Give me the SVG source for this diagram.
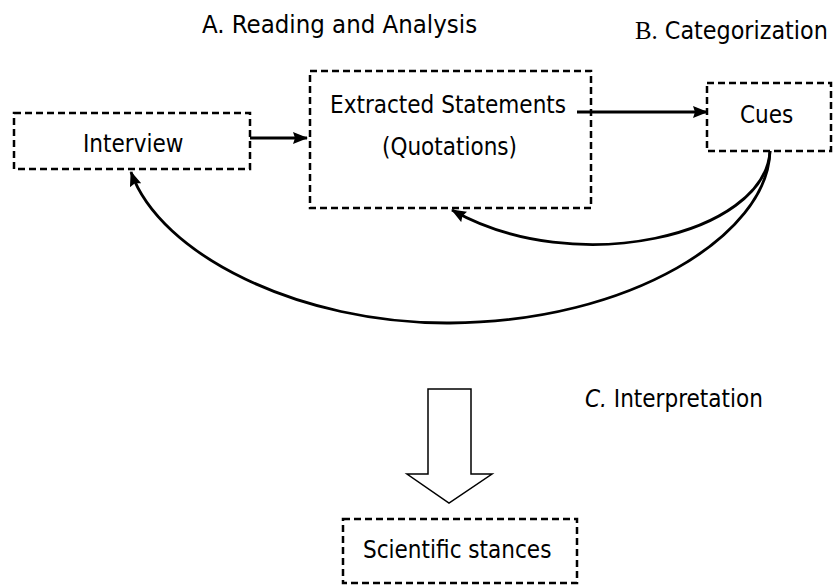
<svg xmlns="http://www.w3.org/2000/svg" width="834" height="588" viewBox="0 0 834 588">
<defs>
<style>
.box{fill:none;stroke:#000;stroke-width:2.5;stroke-dasharray:7 4}
.t{font-family:"DejaVu Sans Condensed","DejaVu Sans",sans-serif;font-stretch:condensed;font-size:24px;fill:#000}
.ser{font-family:"Liberation Serif",serif;font-stretch:normal}
.c{fill:none;stroke:#000;stroke-width:2.8}
</style>
<marker id="ah" viewBox="0 0 15 12" refX="14" refY="6" markerWidth="15" markerHeight="12" markerUnits="userSpaceOnUse" orient="auto">
<path d="M0,0 L15,6 L0,12 L2,6 Z" fill="#000"/>
</marker>
</defs>
<rect width="834" height="588" fill="#fff"/>
<g id="labels">
<text class="t" x="202" y="33" style="font-size:25.5px">A. Reading and Analysis</text>
<text class="t" x="635" y="39" style="font-size:24.8px"><tspan class="ser">B.</tspan> Categorization</text>
<text class="t" x="585" y="407"><tspan font-style="italic">C.</tspan> Interpretation</text>
</g>
<g id="interview">
<rect class="box" x="14" y="113" width="236" height="56"/>
<text class="t" x="83" y="152">Interview</text>
</g>
<g id="extracted">
<rect class="box" x="310" y="71" width="281" height="137"/>
<text class="t" x="330" y="113">Extracted Statements</text>
<text class="t" x="382" y="155">(Quotations)</text>
</g>
<g id="cues">
<rect class="box" x="707" y="83" width="124" height="68"/>
<text class="t" x="740" y="123">Cues</text>
</g>
<g id="stances">
<rect class="box" x="343" y="519" width="234" height="64"/>
<text class="t" x="363" y="558">Scientific stances</text>
</g>
<g id="connectors">
<path class="c" d="M250,138 L307,138" marker-end="url(#ah)"/>
<path class="c" d="M577,112 L707,112" marker-end="url(#ah)"/>
<path class="c" d="M770,151 C765,235 575,280 452,210" marker-end="url(#ah)"/>
<path class="c" d="M770,151 C768,235 630,322 450,323 C300,324 160,255 131,172" marker-end="url(#ah)"/>
<polygon points="428,389 471,389 471,474 492,474 449,503 407,474 428,474" fill="#fff" stroke="#000" stroke-width="1.5"/>
</g>
</svg>
